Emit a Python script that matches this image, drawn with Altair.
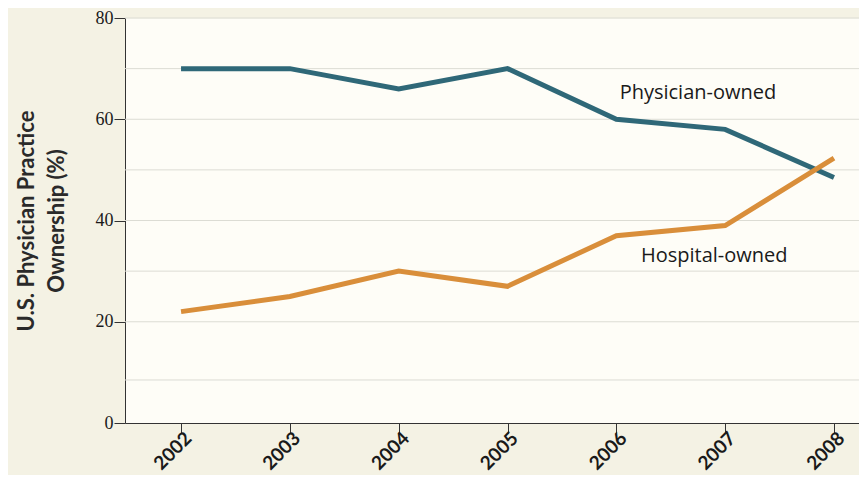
import altair as alt
import pandas as pd

years = [2002, 2003, 2004, 2005, 2006, 2007, 2008]
physician = [70, 70, 66, 70, 60, 58, 48.5]
hospital = [22, 25, 30, 27, 37, 39, 52.3]
series_names = ["Physician-owned", "Hospital-owned"]
series_colors = ["#2f6878", "#d98e3a"]
grid_values = [8.5, 20, 30, 40, 50, 60, 70, 80]
y_ticks = [0, 20, 40, 60, 80]
label_x = [2006.75, 2006.9]
label_y = [65.2, 33.0]

rows = []
for name, vals in zip(series_names, [physician, hospital]):
    for yr, v in zip(years, vals):
        rows.append({"year": yr, "value": v, "series": name})
df = pd.DataFrame(rows)
grid_df = pd.DataFrame({"g": grid_values})
lab_df = pd.DataFrame({"x": label_x, "y": label_y, "text": series_names})

xscale = alt.Scale(domain=[2001.485, 2008.23], nice=False, zero=False)
yscale = alt.Scale(domain=[0, 80], nice=False)

grid = alt.Chart(grid_df).mark_rule(color="#dcdcd4", strokeWidth=1).encode(
    y=alt.Y("g:Q", scale=yscale)
)

lines = alt.Chart(df).mark_line(strokeWidth=5, strokeJoin="miter").encode(
    x=alt.X("year:Q", scale=xscale,
            axis=alt.Axis(values=years, format="d", title=None, grid=False,
                          labelAngle=-45, labelAlign="right", labelBaseline="middle",
                          labelFont="Lato", labelFontWeight="bold", labelFontSize=19,
                          labelColor="#1a1a1a", tickSize=10, tickColor="#333333",
                          domainColor="#333333", labelPadding=2, labelOffset=7)),
    y=alt.Y("value:Q", scale=yscale,
            axis=alt.Axis(values=y_ticks, grid=False,
                          title=["U.S. Physician Practice", "Ownership (%)"],
                          titleFont="Lato", titleFontWeight="bold", titleFontSize=22,
                          titleColor="#2a2a2a", titlePadding=27, titleLineHeight=30,
                          labelFont="Liberation Serif", labelFontSize=18,
                          labelColor="#1a1a1a", tickSize=11, tickColor="#333333",
                          domainColor="#333333", labelPadding=1)),
    color=alt.Color("series:N", scale=alt.Scale(domain=series_names, range=series_colors),
                    legend=None),
    detail="series:N",
)

labels = alt.Chart(lab_df).mark_text(font="Open Sans", fontSize=20, color="#1a1a1a",
                                      align="center", baseline="middle").encode(
    x=alt.X("x:Q", scale=xscale),
    y=alt.Y("y:Q", scale=yscale),
    text="text:N",
)

chart = alt.layer(grid, lines, labels).properties(
    width=734, height=405,
    autosize=alt.AutoSizeParams(type="none"),
    padding={"left": 117, "top": 10, "right": 0, "bottom": 52},
    background="#f4f2e4",
).configure_view(fill="#fefdf7", stroke="transparent")

chart.save("out.html", embed_options={"renderer": "svg", "actions": False})
